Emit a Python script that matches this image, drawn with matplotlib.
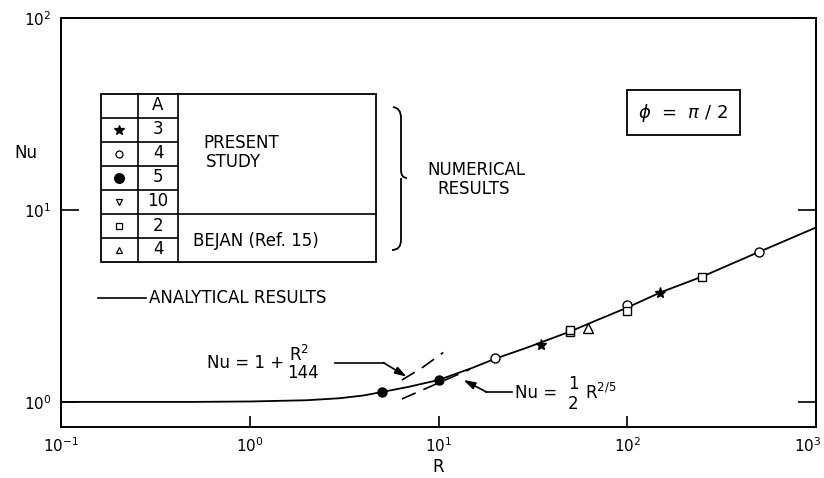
import matplotlib
matplotlib.use("Agg")
import matplotlib.pyplot as plt
from matplotlib.lines import Line2D
from matplotlib.patches import Rectangle, PathPatch
from matplotlib.path import Path
from matplotlib.transforms import ScaledTranslation

# --- Data ---
# analytical curve, Nu vs R
r_curve = [0.1, 0.5, 1, 2, 3, 4, 5, 7, 10, 15, 20, 30, 50, 70, 100, 150, 250, 500, 1000]
nu_curve = [1.0, 1.0, 1.005, 1.02, 1.045, 1.08, 1.125, 1.2, 1.3, 1.5, 1.68, 1.93,
            2.33, 2.68, 3.1, 3.72, 4.5, 6.05, 8.1]

# asymptotes (dashed pieces)
r_small = [6.4, 8.3, 10.6]
nu_small = [1.30, 1.52, 1.81]          # Nu = 1 + R^2/144
r_large = [6.4, 14.7]
nu_large = [1.036, 1.48]               # Nu = 1/2 R^(2/5)

# numerical points
r_star, nu_star = [35, 150], [1.99, 3.71]              # A = 3
r_circ, nu_circ = [20, 100, 500], [1.69, 3.20, 6.06]   # A = 4
r_dot, nu_dot = [5, 10], [1.127, 1.30]                 # A = 5
r_sq, nu_sq = [50, 50, 100, 250], [2.30, 2.37, 2.98, 4.46]  # Bejan A = 2
r_tri, nu_tri = [62], [2.42]                           # Bejan A = 4

legend_markers = ["*", "o", "o", "v", "s", "^"]
legend_filled = [True, False, True, False, False, False]
legend_A = ["3", "4", "5", "10", "2", "4"]

W, H = 824, 478


def fx(x):
    return x / W


def fy(y):
    return 1 - y / H


fig = plt.figure(figsize=(W / 100, H / 100), dpi=100)
ax = fig.add_axes([fx(61), fy(427), (816 - 61) / W, (427 - 18) / H])

ax.plot(r_curve, nu_curve, color="black", lw=1.3, zorder=3)
ax.plot(r_small, nu_small, color="black", lw=1.2, dashes=(9, 5))
ax.plot(r_large, nu_large, color="black", lw=1.2, dashes=(9, 5))

ax.plot(r_star, nu_star, ls="none", marker="*", ms=8, color="black", zorder=4)
ax.plot(r_circ, nu_circ, ls="none", marker="o", ms=6.5, mfc="white", mec="black", mew=1.0, zorder=4)
ax.plot(r_dot, nu_dot, ls="none", marker="o", ms=6.5, color="black", zorder=4)
ax.plot(r_sq, nu_sq, ls="none", marker="s", ms=6, mfc="white", mec="black", mew=1.0, zorder=4)
ax.plot(r_tri, nu_tri, ls="none", marker="^", ms=6.5, mfc="white", mec="black", mew=1.0, zorder=4)

ax.set_xscale("log")
ax.set_yscale("log")
ax.set_xlim(0.1, 1000)
ax.set_ylim(0.74, 100)
ax.set_xticks([0.1, 1, 10, 100, 1000])
ax.set_yticks([1, 10, 100])
ax.minorticks_off()
ax.tick_params(axis="both", direction="in", width=1.2, labelsize=11, pad=7)
ax.tick_params(axis="y", length=13, right=True)
ax.tick_params(axis="x", length=8, top=False)
for s in ax.spines.values():
    s.set_linewidth(1.4)

# keep the 10^3 label inside the picture
fig.canvas.draw()
last = ax.get_xticklabels()[-1]
last.set_transform(last.get_transform() + ScaledTranslation(-8 / 100, 0, fig.dpi_scale_trans))

ax.set_ylabel("Nu", rotation=0, fontsize=12, ha="center", va="center")
ax.yaxis.set_label_coords((26 - 61) / 755, (427 - 153) / 409)
ax.set_xlabel("R", fontsize=12, va="center")
ax.xaxis.set_label_coords((438 - 61) / 755, (427 - 467) / 409)

# --- legend table ---
tl, tc1, tc2, tr = 100.7, 137.7, 178.3, 376
ttop, step = 93.5, 24.0
rows_y = [ttop + i * step for i in range(8)]
kw = dict(color="black", lw=1.2, transform=fig.transFigure)
fig.add_artist(Rectangle((fx(tl), fy(rows_y[-1])), fx(tr) - fx(tl), fy(rows_y[0]) - fy(rows_y[-1]),
                         fill=False, ec="black", lw=1.3, transform=fig.transFigure))
for xv in (tc1, tc2):
    fig.add_artist(Line2D([fx(xv), fx(xv)], [fy(rows_y[0]), fy(rows_y[-1])], **kw))
for i, yv in enumerate(rows_y[1:-1]):
    right = tr if i == 4 else tc2
    fig.add_artist(Line2D([fx(tl), fx(right)], [fy(yv), fy(yv)], **kw))

fig.text(fx((tc1 + tc2) / 2), fy(rows_y[0] + step / 2), "A", ha="center", va="center", fontsize=12)
for i, (m, filled, a) in enumerate(zip(legend_markers, legend_filled, legend_A)):
    yc = rows_y[i + 1] + step / 2
    size = {"*": 7, "o": 5}.get(m, 5)
    if m == "o" and filled:
        size = 7
    fig.add_artist(Line2D([fx((tl + tc1) / 2)], [fy(yc)], marker=m, ms=size,
                          mfc="black" if filled else "white", mec="black", mew=0.9,
                          transform=fig.transFigure))
    fig.text(fx((tc1 + tc2) / 2), fy(yc), a, ha="center", va="center", fontsize=12)

fig.text(fx(203), fy(143), "PRESENT", ha="left", va="center", fontsize=12)
fig.text(fx(206), fy(162), "STUDY", ha="left", va="center", fontsize=12)
fig.text(fx(193), fy(241), "BEJAN (Ref. 15)", ha="left", va="center", fontsize=12)

# brace and its label
brace = [(393, 107), (401, 108), (401, 118), (401, 170), (401, 178), (407, 178),
         (401, 178), (401, 186), (401, 240), (401, 250), (392, 250)]
codes = [Path.MOVETO, Path.CURVE3, Path.CURVE3, Path.LINETO, Path.CURVE3, Path.CURVE3,
         Path.MOVETO, Path.CURVE3, Path.LINETO, Path.CURVE3, Path.CURVE3]
brace_path = Path([(fx(x), fy(y)) for x, y in brace], codes)
fig.add_artist(PathPatch(brace_path, fill=False, lw=1.3, ec="black", transform=fig.transFigure))
fig.text(fx(476), fy(170), "NUMERICAL", ha="center", va="center", fontsize=12)
fig.text(fx(474), fy(189), "RESULTS", ha="center", va="center", fontsize=12)

# analytical results key
fig.add_artist(Line2D([fx(98), fx(146)], [fy(298), fy(298)], **kw))
fig.text(fx(149), fy(298), "ANALYTICAL RESULTS", ha="left", va="center", fontsize=12)

# phi box
fig.add_artist(Rectangle((fx(627), fy(135)), fx(740) - fx(627), fy(90) - fy(135),
                         fill=False, ec="black", lw=1.3, transform=fig.transFigure))
fig.text(fx(683), fy(113), r"$\phi$  =  $\pi$ / 2", ha="center", va="center", fontsize=13)

# formula labels with arrows
fig.text(fx(207), fy(363), "Nu = 1 +", ha="left", va="center", fontsize=12)
fig.text(fx(299), fy(355), r"R$^{2}$", ha="center", va="center", fontsize=12)
fig.text(fx(303), fy(373), "144", ha="center", va="center", fontsize=12)
fig.add_artist(Line2D([fx(335), fx(384)], [fy(362.7), fy(362.7)], **kw))
fig.add_artist(plt.Annotation("", xy=(fx(406.7), fy(376.7)), xytext=(fx(383.5), fy(362.7)),
                              xycoords="figure fraction", textcoords="figure fraction",
                              arrowprops=dict(arrowstyle="-|>,head_length=0.7,head_width=0.22",
                                              color="black", lw=1.2, shrinkA=0, shrinkB=0)))

fig.text(fx(515), fy(393), "Nu =", ha="left", va="center", fontsize=12)
fig.text(fx(573), fy(384), "1", ha="center", va="center", fontsize=12)
fig.text(fx(573), fy(404), "2", ha="center", va="center", fontsize=12)
fig.text(fx(585), fy(393), r"R$^{2/5}$", ha="left", va="center", fontsize=12)
fig.add_artist(Line2D([fx(512), fx(486)], [fy(392), fy(392)], **kw))
fig.add_artist(plt.Annotation("", xy=(fx(463.5), fy(380)), xytext=(fx(486.5), fy(392)),
                              xycoords="figure fraction", textcoords="figure fraction",
                              arrowprops=dict(arrowstyle="-|>,head_length=0.7,head_width=0.22",
                                              color="black", lw=1.2, shrinkA=0, shrinkB=0)))

fig.savefig("out.png", dpi=100)
